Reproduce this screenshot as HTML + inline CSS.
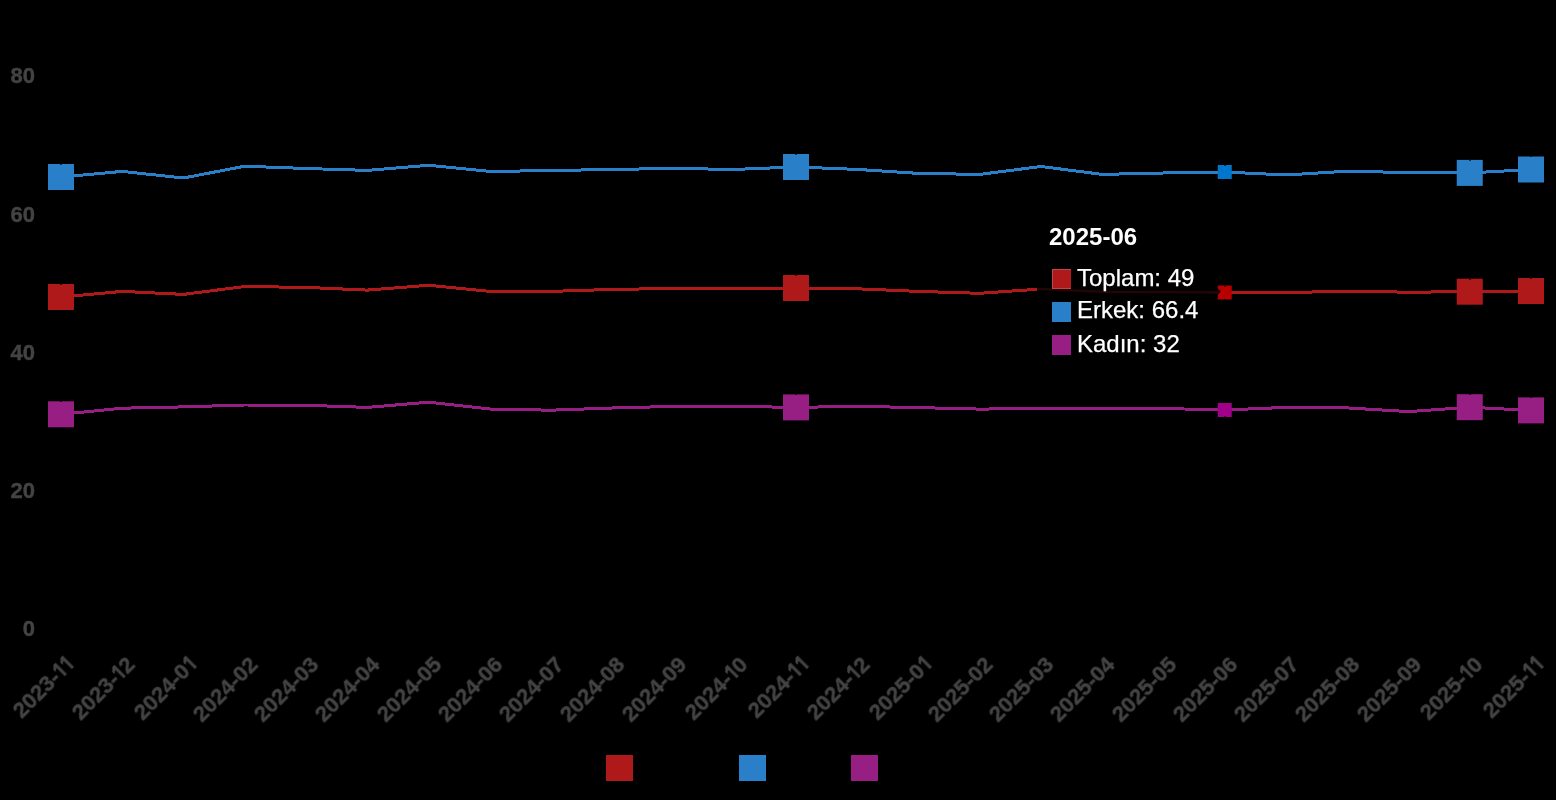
<!DOCTYPE html>
<html><head><meta charset="utf-8"><style>
html,body{margin:0;padding:0;background:#000;width:1556px;height:800px;overflow:hidden;position:relative;font-family:"Liberation Sans",sans-serif;}
#chart{position:absolute;left:0;top:0;}
.yl{position:absolute;left:0;width:35px;text-align:right;font-weight:bold;font-size:22px;line-height:26px;color:#434343;-webkit-text-stroke:0.45px #434343;will-change:transform;}
.xl{position:absolute;width:120px;height:26px;line-height:26px;text-align:right;font-weight:bold;font-size:22px;color:#434343;-webkit-text-stroke:0.45px #434343;will-change:transform;transform-origin:100% 50%;transform:rotate(-45deg);white-space:nowrap;}
.one{fill:#434343;vertical-align:-0.4px;}
.tt{position:absolute;color:#fff;white-space:nowrap;will-change:transform;}
.tt.t{font-weight:bold;font-size:24px;line-height:28px;}
.tt.b{font-size:24px;line-height:28px;-webkit-text-stroke:0.25px #fff;}
.cb{position:absolute;width:19px;height:20px;box-sizing:border-box;}
.lg{position:absolute;top:755px;width:27px;height:26px;}
</style></head><body>
<svg id="chart" width="1556" height="800" viewBox="0 0 1556 800">
<path d="M61.00 177.00 L122.25 171.40 L183.50 178.00 L244.75 166.20 L306.00 168.50 L367.25 170.40 L428.50 165.30 L489.75 171.40 L551.00 170.60 L612.25 169.40 L673.50 168.50 L734.75 169.40 L796.00 167.00 L857.25 169.40 L918.50 173.40 L979.75 174.40 L1041.00 166.50 L1102.25 174.40 L1163.50 173.00 L1224.75 172.00 L1286.00 175.00 L1347.25 171.20 L1408.50 172.60 L1469.75 172.90 L1531.00 169.50" fill="none" stroke="#2980c8" stroke-width="3" stroke-linejoin="round" shape-rendering="crispEdges"/>
<path d="M61.00 297.00 L122.25 291.40 L183.50 294.40 L244.75 286.50 L306.00 287.40 L367.25 290.10 L428.50 285.30 L489.75 291.40 L551.00 291.40 L612.25 289.40 L673.50 288.50 L734.75 288.50 L796.00 288.00 L857.25 288.80 L918.50 291.40 L979.75 293.30 L1041.00 289.00 L1102.25 291.70 L1163.50 292.00 L1224.75 292.50 L1286.00 292.60 L1347.25 291.20 L1408.50 292.20 L1469.75 291.70 L1531.00 291.00" fill="none" stroke="#b01919" stroke-width="3" stroke-linejoin="round" shape-rendering="crispEdges"/>
<path d="M61.00 414.30 L122.25 408.20 L183.50 406.90 L244.75 405.00 L306.00 405.30 L367.25 407.40 L428.50 402.20 L489.75 409.00 L551.00 410.20 L612.25 408.00 L673.50 406.40 L734.75 406.40 L796.00 407.40 L857.25 406.30 L918.50 407.60 L979.75 409.10 L1041.00 408.50 L1102.25 408.50 L1163.50 408.50 L1224.75 410.00 L1286.00 407.40 L1347.25 407.90 L1408.50 411.60 L1469.75 407.20 L1531.00 410.40" fill="none" stroke="#971e82" stroke-width="3" stroke-linejoin="round" shape-rendering="crispEdges"/>
<rect x="48.00" y="164.00" width="26" height="26" fill="#2980c8"/>
<rect x="60.00" y="164.00" width="2" height="1" fill="rgba(0,0,0,0.6)"/>
<rect x="783.00" y="154.00" width="26" height="26" fill="#2980c8"/>
<rect x="795.00" y="154.00" width="2" height="1" fill="rgba(0,0,0,0.6)"/>
<rect x="1456.75" y="159.90" width="26" height="26" fill="#2980c8"/>
<rect x="1469.00" y="160.00" width="2" height="1" fill="rgba(0,0,0,0.6)"/>
<rect x="1518.00" y="156.50" width="26" height="26" fill="#2980c8"/>
<rect x="1530.00" y="156.00" width="2" height="1" fill="rgba(0,0,0,0.6)"/>
<rect x="1217.75" y="165.00" width="14" height="14" fill="#0077cc"/>
<rect x="1224.00" y="165.00" width="2" height="1" fill="rgba(0,0,0,0.6)"/>
<rect x="48.00" y="284.00" width="26" height="26" fill="#b01919"/>
<rect x="60.00" y="284.00" width="2" height="1" fill="rgba(0,0,0,0.6)"/>
<rect x="783.00" y="275.00" width="26" height="26" fill="#b01919"/>
<rect x="795.00" y="275.00" width="2" height="1" fill="rgba(0,0,0,0.6)"/>
<rect x="1456.75" y="278.70" width="26" height="26" fill="#b01919"/>
<rect x="1469.00" y="279.00" width="2" height="1" fill="rgba(0,0,0,0.6)"/>
<rect x="1518.00" y="278.00" width="26" height="26" fill="#b01919"/>
<rect x="1530.00" y="278.00" width="2" height="1" fill="rgba(0,0,0,0.6)"/>
<rect x="1217.75" y="285.50" width="14" height="14" fill="#b80000"/>
<rect x="1224.00" y="286.00" width="2" height="1" fill="rgba(0,0,0,0.6)"/>
<rect x="1224.00" y="299.00" width="2" height="1" fill="rgba(0,0,0,0.5)"/>
<rect x="48.00" y="401.30" width="26" height="26" fill="#971e82"/>
<rect x="60.00" y="401.00" width="2" height="1" fill="rgba(0,0,0,0.6)"/>
<rect x="783.00" y="394.40" width="26" height="26" fill="#971e82"/>
<rect x="795.00" y="394.00" width="2" height="1" fill="rgba(0,0,0,0.6)"/>
<rect x="1456.75" y="394.20" width="26" height="26" fill="#971e82"/>
<rect x="1469.00" y="394.00" width="2" height="1" fill="rgba(0,0,0,0.6)"/>
<rect x="1518.00" y="397.40" width="26" height="26" fill="#971e82"/>
<rect x="1530.00" y="397.00" width="2" height="1" fill="rgba(0,0,0,0.6)"/>
<rect x="1217.75" y="403.00" width="14" height="14" fill="#a0008a"/>
<rect x="1224.00" y="416.00" width="2" height="1" fill="rgba(0,0,0,0.5)"/>
<path d="M1037 210 H1215 V285.5 L1221.0 291.5 L1215 297.5 V372 H1037 Z" fill="rgba(0,0,0,0.8)"/>
<clipPath id="ttc"><rect x="1037" y="270" width="178" height="30"/></clipPath>
<rect x="1037" y="270" width="178" height="30" fill="#000"/>
<path d="M61.00 297.00 L122.25 291.40 L183.50 294.40 L244.75 286.50 L306.00 287.40 L367.25 290.10 L428.50 285.30 L489.75 291.40 L551.00 291.40 L612.25 289.40 L673.50 288.50 L734.75 288.50 L796.00 288.00 L857.25 288.80 L918.50 291.40 L979.75 293.30 L1041.00 289.00 L1102.25 291.70 L1163.50 292.00 L1224.75 292.50 L1286.00 292.60 L1347.25 291.20 L1408.50 292.20 L1469.75 291.70 L1531.00 291.00" fill="none" stroke="#b01919" stroke-opacity="0.2" stroke-width="2.6" clip-path="url(#ttc)"/>
</svg>
<div class="yl" style="top:63.0px">80</div>
<div class="yl" style="top:202.0px">60</div>
<div class="yl" style="top:340.0px">40</div>
<div class="yl" style="top:478.0px">20</div>
<div class="yl" style="top:616.0px">0</div>
<div class="xl" style="left:-49.90px;top:648.30px">2023-<svg class="one" width="9.5" height="16" viewBox="0 0 9.5 16"><path d="M4.6 0H7.6V16H4.6V4.3L1 6.6V3.5Z"/></svg><svg class="one" width="9.5" height="16" viewBox="0 0 9.5 16"><path d="M4.6 0H7.6V16H4.6V4.3L1 6.6V3.5Z"/></svg></div>
<div class="xl" style="left:11.35px;top:648.30px">2023-<svg class="one" width="9.5" height="16" viewBox="0 0 9.5 16"><path d="M4.6 0H7.6V16H4.6V4.3L1 6.6V3.5Z"/></svg>2</div>
<div class="xl" style="left:72.60px;top:648.30px">2024-0<svg class="one" width="9.5" height="16" viewBox="0 0 9.5 16"><path d="M4.6 0H7.6V16H4.6V4.3L1 6.6V3.5Z"/></svg></div>
<div class="xl" style="left:133.85px;top:648.30px">2024-02</div>
<div class="xl" style="left:195.10px;top:648.30px">2024-03</div>
<div class="xl" style="left:256.35px;top:648.30px">2024-04</div>
<div class="xl" style="left:317.60px;top:648.30px">2024-05</div>
<div class="xl" style="left:378.85px;top:648.30px">2024-06</div>
<div class="xl" style="left:440.10px;top:648.30px">2024-07</div>
<div class="xl" style="left:501.35px;top:648.30px">2024-08</div>
<div class="xl" style="left:562.60px;top:648.30px">2024-09</div>
<div class="xl" style="left:623.85px;top:648.30px">2024-<svg class="one" width="9.5" height="16" viewBox="0 0 9.5 16"><path d="M4.6 0H7.6V16H4.6V4.3L1 6.6V3.5Z"/></svg>0</div>
<div class="xl" style="left:685.10px;top:648.30px">2024-<svg class="one" width="9.5" height="16" viewBox="0 0 9.5 16"><path d="M4.6 0H7.6V16H4.6V4.3L1 6.6V3.5Z"/></svg><svg class="one" width="9.5" height="16" viewBox="0 0 9.5 16"><path d="M4.6 0H7.6V16H4.6V4.3L1 6.6V3.5Z"/></svg></div>
<div class="xl" style="left:746.35px;top:648.30px">2024-<svg class="one" width="9.5" height="16" viewBox="0 0 9.5 16"><path d="M4.6 0H7.6V16H4.6V4.3L1 6.6V3.5Z"/></svg>2</div>
<div class="xl" style="left:807.60px;top:648.30px">2025-0<svg class="one" width="9.5" height="16" viewBox="0 0 9.5 16"><path d="M4.6 0H7.6V16H4.6V4.3L1 6.6V3.5Z"/></svg></div>
<div class="xl" style="left:868.85px;top:648.30px">2025-02</div>
<div class="xl" style="left:930.10px;top:648.30px">2025-03</div>
<div class="xl" style="left:991.35px;top:648.30px">2025-04</div>
<div class="xl" style="left:1052.60px;top:648.30px">2025-05</div>
<div class="xl" style="left:1113.85px;top:648.30px">2025-06</div>
<div class="xl" style="left:1175.10px;top:648.30px">2025-07</div>
<div class="xl" style="left:1236.35px;top:648.30px">2025-08</div>
<div class="xl" style="left:1297.60px;top:648.30px">2025-09</div>
<div class="xl" style="left:1358.85px;top:648.30px">2025-<svg class="one" width="9.5" height="16" viewBox="0 0 9.5 16"><path d="M4.6 0H7.6V16H4.6V4.3L1 6.6V3.5Z"/></svg>0</div>
<div class="xl" style="left:1420.10px;top:648.30px">2025-<svg class="one" width="9.5" height="16" viewBox="0 0 9.5 16"><path d="M4.6 0H7.6V16H4.6V4.3L1 6.6V3.5Z"/></svg><svg class="one" width="9.5" height="16" viewBox="0 0 9.5 16"><path d="M4.6 0H7.6V16H4.6V4.3L1 6.6V3.5Z"/></svg></div>
<div class="tt t" style="left:1049.3px;top:223px">2025-06</div>
<div class="cb" style="left:1052px;top:269px;background:#b01919;border:1px solid rgba(255,255,255,.2);border-right:none"></div>
<div class="cb" style="left:1052px;top:302px;background:#2980c8"></div>
<div class="cb" style="left:1052px;top:335px;background:#971e82"></div>
<div class="tt b" style="left:1077.2px;top:264px">Toplam: 49</div>
<div class="tt b" style="left:1077.2px;top:296px">Erkek: 66.4</div>
<div class="tt b" style="left:1077.2px;top:329.5px">Kadın: 32</div>
<div class="lg" style="left:606px;background:#b01919"></div>
<div class="lg" style="left:739px;background:#2980c8"></div>
<div class="lg" style="left:851px;background:#971e82"></div>
</body></html>
